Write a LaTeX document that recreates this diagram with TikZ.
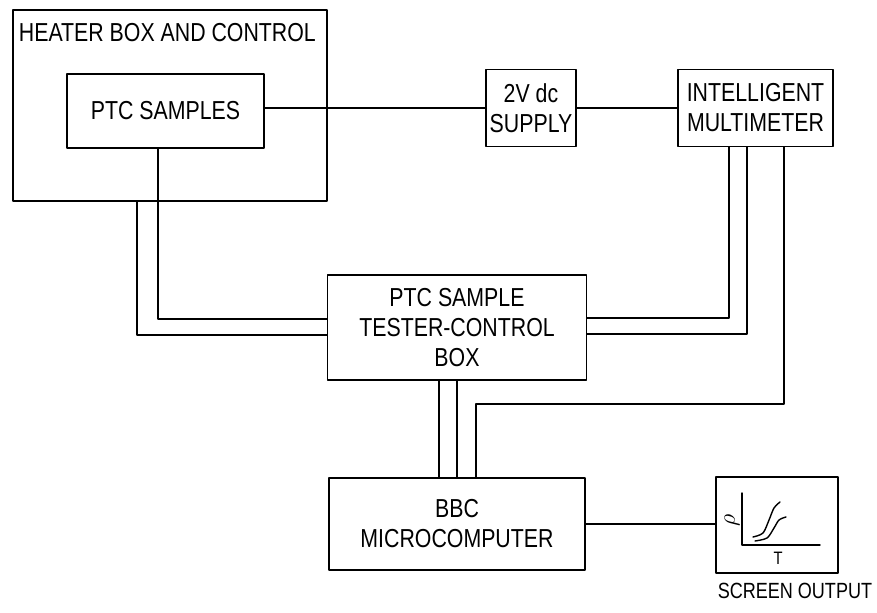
\documentclass[tikz,border=0pt]{standalone}
\usepackage{fontspec}
\setmainfont{Liberation Sans}[FakeStretch=0.82]
\begin{document}
\begin{tikzpicture}[x=0.5pt, y=-0.5pt, line cap=round, line join=round, line width=0.9pt,
	box/.style={draw, rectangle, inner sep=0pt, align=center, font=\fontsize{13}{15}\selectfont},
	lbl/.style={inner sep=0pt, font=\fontsize{13}{15}\selectfont}]
			\useasboundingbox (0,0) rectangle (877,613);
			\node[box, minimum width=157pt, minimum height=95.5pt] (heater) at (170,105.5) {};
			\node[lbl, anchor=west] (heatertext) at (18,32.5) {HEATER BOX AND CONTROL};
			\node[box, minimum width=98.5pt, minimum height=37pt] (samples) at (165.5,111) {PTC SAMPLES};
			\node[box, minimum width=45pt, minimum height=38.5pt] (supply) at (531,108) {2V dc\\SUPPLY};
			\node[box, minimum width=77.5pt, minimum height=38.5pt] (meter) at (755.5,108) {INTELLIGENT\\MULTIMETER};
			\node[box, minimum width=129.5pt, minimum height=52.5pt] (tester) at (457,327.5) {PTC SAMPLE\\TESTER-CONTROL\\BOX};
			\node[box, minimum width=128pt, minimum height=46pt] (bbc) at (457,524) {BBC\\MICROCOMPUTER};
			\node[box, minimum width=61pt, minimum height=48pt] (screen) at (777,525) {};
			\node[lbl, anchor=east, font=\fontsize{11}{13}\selectfont] (screentext) at (873,591) {SCREEN OUTPUT};
			\draw (samples.east |- supply.west) -- (supply.west);
			\draw (supply.east) -- (meter.west);
			\draw ([xshift=-16.5pt]heater.south) |- ([yshift=-3.75pt]tester.west);
			\draw ([xshift=-3.75pt]samples.south) |- ([yshift=4.25pt]tester.west);
			\draw ([xshift=-13.25pt]meter.south) |- ([yshift=4.75pt]tester.east);
			\draw ([xshift=-4.25pt]meter.south) |- ([yshift=-3.25pt]tester.east);
			\coordinate (bend) at (476,404);
			\draw ([xshift=14.25pt]meter.south) |- (bend) -- (bend |- bbc.north);
			\draw ([xshift=-9pt]tester.south) -- ([xshift=-9pt]bbc.north);
			\draw (tester.south) -- (bbc.north);
			\draw (bbc.east) -- (bbc.east -| screen.west);
			\draw[line width=0.7pt] (742,493) -- (742,545) -- (820,545);
			\draw[line width=0.7pt] plot[smooth] coordinates {(753,537) (763,533) (769,520) (774,508) (780,502)};
			\draw[line width=0.7pt] plot[smooth] coordinates {(755,541) (767,538) (774,528) (779,520) (786,517)};
			\node[lbl, rotate=90] (rho) at (732,520) {$\rho$};
			\node[lbl, font=\fontsize{9}{11}\selectfont] (taxis) at (778,558) {T};
		\end{tikzpicture}
\end{document}
